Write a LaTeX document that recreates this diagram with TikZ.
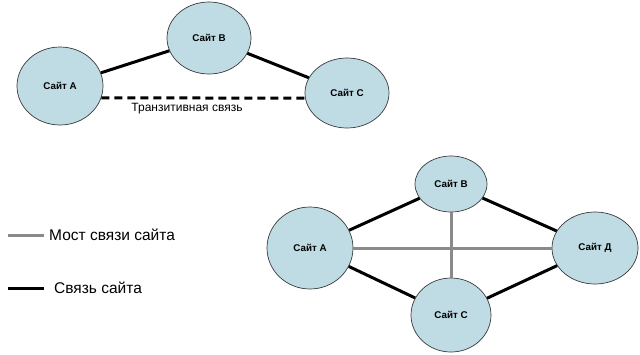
\documentclass[tikz,border=0pt]{standalone}
\usepackage{fontspec}
\setmainfont{Liberation Sans}
\usetikzlibrary{shapes.geometric,positioning}
\definecolor{sitefill}{HTML}{BFDCE4}
\definecolor{sitedraw}{HTML}{3A3A3A}
\definecolor{bridgecol}{HTML}{8A8A8A}
\begin{document}
\begin{tikzpicture}[x=1pt,y=-1pt,
  site/.style={ellipse,draw=sitedraw,fill=sitefill,line width=0.7pt,inner sep=0pt,font=\fontsize{9.8}{11}\selectfont\bfseries},
  sitelink/.style={line width=3pt,black},
  bridge/.style={line width=3pt,bridgecol},
  transit/.style={sitelink,dash pattern=on 8pt off 5pt},
  legend/.style={anchor=west,inner sep=0pt,font=\fontsize{15.5}{17}\selectfont}]
  \useasboundingbox (0,0) rectangle (640,354);
  % upper sketch: transitive link
  \node[site,minimum width=86pt,minimum height=78pt] (tA) at (60,86) {Сайт А};
  \node[site,minimum width=84pt,minimum height=72pt] (tB) at (209,38) {Сайт В};
  \node[site,minimum width=84pt,minimum height=70pt] (tC) at (347,93) {Сайт С};
  \draw[sitelink] (tA) -- (tB);
  \draw[sitelink] (tB) -- (tC);
  \draw[transit] (tA.-16) -- (tC.187);
  \node[inner sep=0pt,font=\fontsize{12}{14}\selectfont] (tlab) at (187,109) {Транзитивная связь};
  % lower sketch: four sites
  \node[site,minimum width=86pt,minimum height=82pt] (bA) at (310,248) {Сайт А};
  \node[site,minimum width=72pt,minimum height=56pt] (bB) at (451,184) {Сайт В};
  \node[site,minimum width=80pt,minimum height=74pt] (bC) at (451,315) {Сайт С};
  \node[site,minimum width=86pt,minimum height=72pt] (bD) at (595,248) {Сайт Д};
  \draw[bridge] (bA) -- (bD);
  \draw[bridge] (bB) -- (bC);
  \draw[sitelink] (bA) -- (bB);
  \draw[sitelink] (bB) -- (bD);
  \draw[sitelink] (bA) -- (bC);
  \draw[sitelink] (bC) -- (bD);
  % legend
  \coordinate (lg1a) at (8,235); \coordinate (lg1b) at (44,235);
  \coordinate (lg2a) at (8,288); \coordinate (lg2b) at (44,288);
  \draw[bridge] (lg1a) -- (lg1b);
  \draw[sitelink] (lg2a) -- (lg2b);
  \node[legend,right=5pt of lg1b] (lgbridge) {Мост связи сайта};
  \node[legend,right=10pt of lg2b] (lglink) {Связь сайта};
\end{tikzpicture}
\end{document}
